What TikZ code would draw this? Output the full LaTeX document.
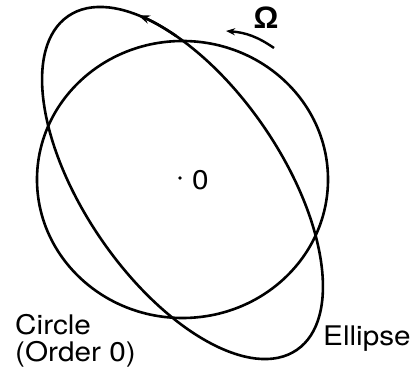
\documentclass[tikz,border=0pt]{standalone}
\usepackage{fontspec}
\setmainfont{TeX Gyre Heros}
\newfontfamily\omegafont{Liberation Sans}
\usetikzlibrary{arrows.meta}
\begin{document}
\begin{tikzpicture}[x=1pt,y=1pt,
  curve/.style={line width=2.6pt},
  lbl/.style={font=\fontsize{27}{27}\selectfont, inner sep=0pt, xscale=1.1},
  tipA/.style={-{Stealth[length=12pt,width=8.5pt]}},
  tipB/.style={-{Stealth[length=9pt,width=7pt]}}]
\useasboundingbox (0,0) rectangle (417,375);
% circle (order 0)
\draw[curve] (182.5,195.5) ellipse[x radius=145.5, y radius=138.5];
% ellipse
\begin{scope}[shift={(182.5,192)}, rotate=-55.6]
  \draw[curve] (0,0) ellipse[x radius=202.3, y radius=98.9];
  \draw[curve, tipA] (128:202.3 and 98.9) arc[start angle=128, end angle=144, x radius=202.3, y radius=98.9];
\end{scope}
% centre
\coordinate (O) at (180,197);
\fill (O) circle (1.9);
\node[lbl, anchor=base west] (zero) at (192,185) {0};
% rotation arrow
\coordinate (os) at (274,327);
\coordinate (oe) at (226,344);
\draw[line width=2.4pt, tipB] (os) to[bend right=15] (oe);
\node[inner sep=0pt, font=\omegafont\bfseries\fontsize{31}{31}\selectfont] (omega) at (266,357) {Ω};
% labels
\node[lbl, anchor=north west, align=left] (circlelbl) at (15,61) {Circle\\(Order 0)};
\node[lbl, anchor=base west] (ellipselbl) at (323,30) {Ellipse};
\end{tikzpicture}
\end{document}
